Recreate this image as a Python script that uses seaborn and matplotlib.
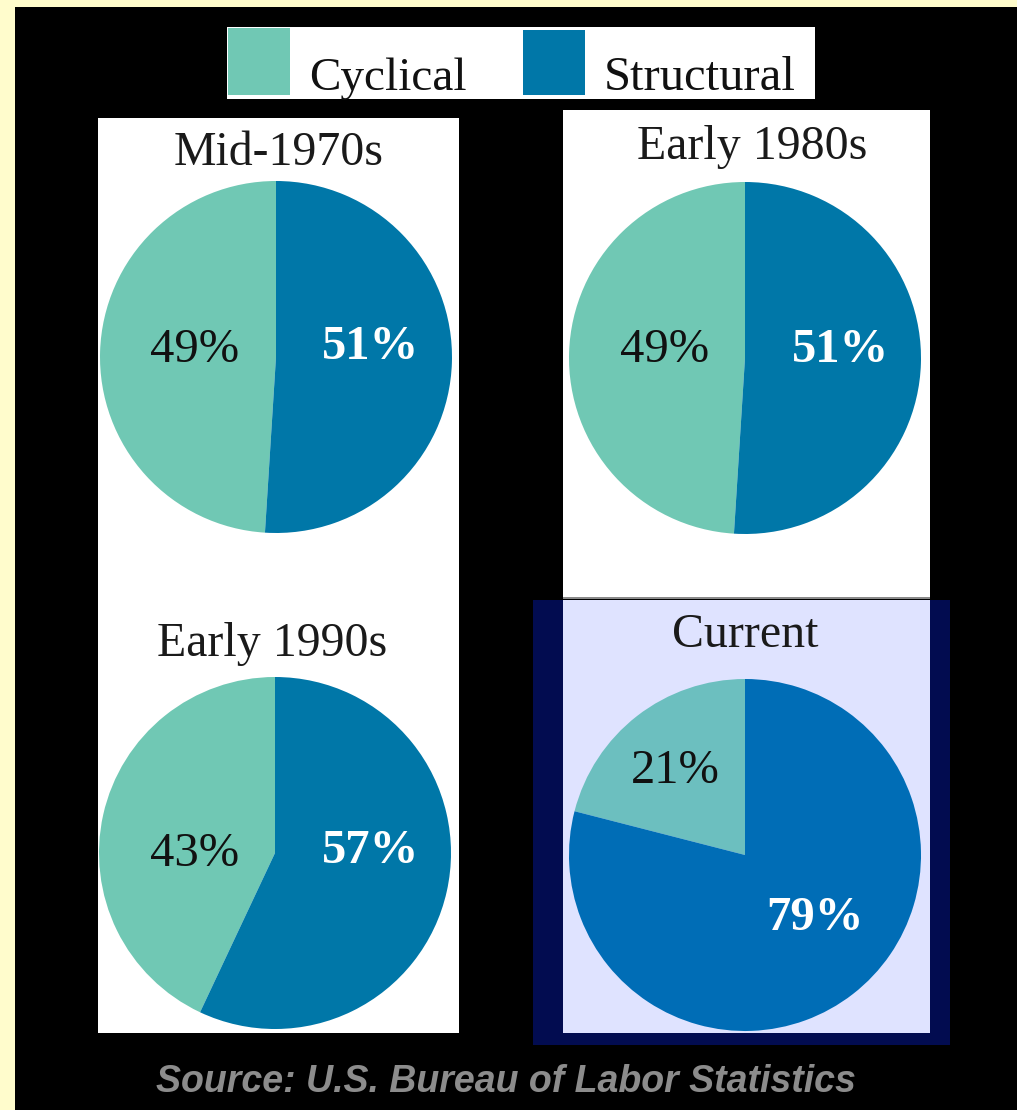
import matplotlib
matplotlib.use("Agg")
import matplotlib.pyplot as plt
from matplotlib.patches import Rectangle
import seaborn as sns

# ---------------- data ----------------
periods = ["Mid-1970s", "Early 1980s", "Early 1990s", "Current"]
cyclical = [49, 49, 43, 21]
structural = [51, 51, 57, 79]
series = ["Cyclical", "Structural"]
source = "Source: U.S. Bureau of Labor Statistics"

# ---------------- style / layout ----------------
W, H = 1017, 1110
sns.set_style("white")
plt.rcParams['font.family'] = ['Liberation Serif', 'DejaVu Serif']

teal, blue = sns.color_palette(["#70C8B4", "#0077A8"])
cur_teal, cur_blue = sns.color_palette(["#6CBFBF", "#006DB6"])

fig = plt.figure(figsize=(W / 100, H / 100), dpi=100)
fig.patch.set_facecolor("black")


def fx(x):
    return x / W


def fy(y):
    return 1 - y / H


def rect(x0, y0, x1, y1, color, z=0):
    fig.add_artist(Rectangle((fx(x0), fy(y1)), (x1 - x0) / W, (y1 - y0) / H,
                             transform=fig.transFigure, facecolor=color,
                             edgecolor="none", zorder=z))


# yellow frame (top and left)
rect(0, 0, W, 7, "#FFFCCC")
rect(0, 0, 15, H, "#FFFCCC")

# panels
rect(98, 118, 459, 1033, "white")          # left column
rect(563, 110, 930, 598, "white")          # early 1980s
rect(533, 600, 950, 1045, "#020C50")       # current outer frame
rect(563, 600, 930, 1033, "#DFE3FF")       # current inner
rect(563, 596.5, 930, 598.5, "#8A8A8A")    # thin grey divider

# legend
rect(227, 27, 815, 99, "white")
rect(228, 28, 290, 95, teal, z=1)
rect(523, 30, 585, 95, blue, z=1)
fig.text(fx(309), fy(90), series[0], fontsize=34, color="#111111",
         ha="left", va="baseline")
fig.text(fx(604), fy(90), series[1], fontsize=35, color="#111111",
         ha="left", va="baseline")

# pie geometry (pixel centers, radius) and title / label positions
centers = [(276, 357), (745, 358), (275, 853), (745, 855)]
radius = 176
title_pos = [(279, 165), (752, 159), (272, 656), (745, 647)]
cyc_lab = [(195, 362), (665, 362), (195, 866), (675, 783)]
str_lab = [(371, 359), (841, 362), (371, 863), (815, 930)]

for i, (cx, cy) in enumerate(centers):
    ax = fig.add_axes([fx(cx - radius), fy(cy + radius),
                       2 * radius / W, 2 * radius / H])
    cols = [cur_teal, cur_blue] if i == 3 else [teal, blue]
    ax.pie([cyclical[i], structural[i]], colors=cols, startangle=90,
           counterclock=True, radius=1, wedgeprops=dict(linewidth=0))
    ax.set_xlim(-1.0, 1.0)
    ax.set_ylim(-1.0, 1.0)
    ax.axis("off")

    fig.text(fx(title_pos[i][0]), fy(title_pos[i][1]), periods[i],
             fontsize=34.5, color="#1a1a1a", ha="center", va="baseline")
    fig.text(fx(cyc_lab[i][0]), fy(cyc_lab[i][1]), f"{cyclical[i]}%",
             fontsize=35, color="#111111", ha="center", va="baseline")
    fig.text(fx(str_lab[i][0]), fy(str_lab[i][1]), f"{structural[i]}%",
             fontsize=35, color="white", fontweight="bold",
             ha="center", va="baseline")

fig.text(fx(506), fy(1092), source, fontsize=27, color="#8C8C8C",
         family=["Liberation Sans", "DejaVu Sans"], fontweight="bold",
         fontstyle="italic", ha="center", va="baseline")

fig.savefig("out.png", dpi=100, facecolor=fig.get_facecolor())
